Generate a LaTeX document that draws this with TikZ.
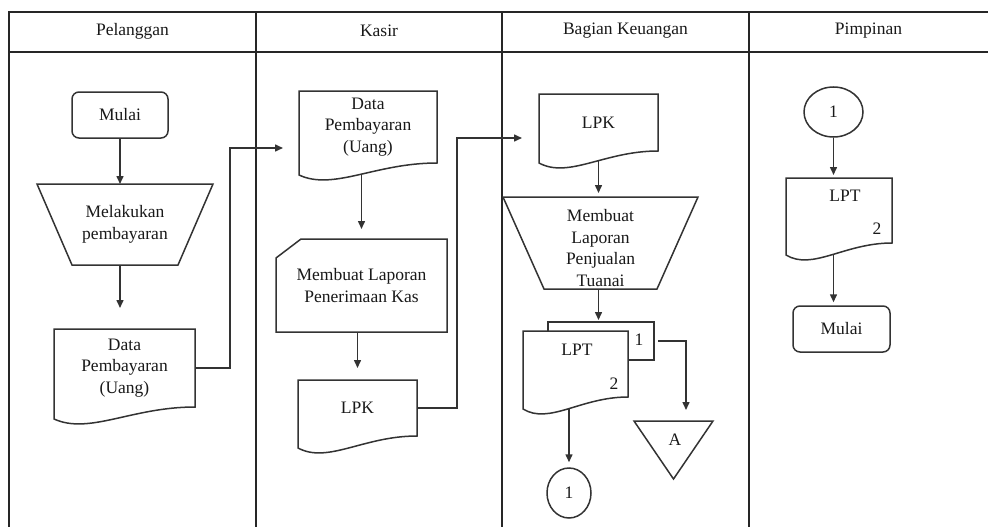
\documentclass[tikz,border=0pt]{standalone}
\usepackage{fontspec}
\setmainfont{Liberation Serif}
\usetikzlibrary{arrows.meta,calc,shapes.geometric}
\pgfdeclarelayer{connlayer}
\pgfdeclarelayer{shplayer}
\pgfsetlayers{connlayer,shplayer,main}
\newcommand{\docoutline}[1]{\draw[outl] (#1.north west) -- (#1.north east) -- (#1.south east) .. controls ($(#1.south east)!0.45!(#1.south west)$) and ($(#1.south west)!0.25!(#1.south east)+(0,28)$) .. ($(#1.south west)+(0,12)$) -- cycle;}
\begin{document}
\begin{tikzpicture}[x=1pt,y=-1pt,
  ln/.style={draw=black!80,line width=1.5pt},
  tbl/.style={draw=black!85,line width=1.6pt},
  outl/.style={ln,fill=white,line join=miter},
  conn/.style={ln,-{Triangle[length=8pt,width=7pt]}},
  txt/.style={font=\fontsize{17.5}{21.6}\selectfont,text=black!90,align=center,inner sep=0pt},
  holder/.style={draw=none,inner sep=0pt,outer sep=0pt}]
\useasboundingbox (0,0) rectangle (988,527);

% ---------- table ----------
\begin{pgfonlayer}{connlayer}
\draw[tbl] (9,527) -- (9,12) -- (988,12);
\draw[tbl] (9,52) -- (988,52);
\draw[tbl] (256,12) -- (256,527);
\draw[tbl] (502,12) -- (502,527);
\draw[tbl] (749,12) -- (749,527);
\end{pgfonlayer}
\node[txt] (hPel) at (132.5,31) {Pelanggan};
\node[txt] (hKas) at (379,31) {Kasir};
\node[txt] (hKeu) at (625.5,31) {Bagian Keuangan};
\node[txt] (hPim) at (868.5,31) {Pimpinan};

% ---------- Pelanggan ----------
\node[txt,ln,fill=white,rounded corners=7pt,minimum width=96pt,minimum height=46pt] (mulaiA) at (120,115) {Mulai};
\node[txt,holder,minimum width=176pt,minimum height=81pt] (manA) at (125,224.5) {Melakukan\\pembayaran};
\node[txt,holder,minimum width=141pt,minimum height=78pt] (docA) at (124.5,368) {Data\\Pembayaran\\(Uang)};

% ---------- Kasir ----------
\node[txt,holder,minimum width=138pt,minimum height=72pt] (docB) at (368,127) {Data\\Pembayaran\\(Uang)};
\node[txt,holder,minimum width=171pt,minimum height=93pt] (cardB) at (361.5,285.5) {Membuat Laporan\\Penerimaan Kas};
\node[txt,holder,minimum width=119pt,minimum height=56pt] (lpkB) at (357.5,408) {LPK};

% ---------- Bagian Keuangan ----------
\node[txt,holder,minimum width=119pt,minimum height=57pt] (lpkC) at (598.5,122.5) {LPK};
\node[holder,minimum width=195pt,minimum height=92pt] (manC) at (600.5,243) {};
\node[txt] (manCt) at (600.5,248) {Membuat\\Laporan\\Penjualan\\Tuanai};
\node[holder,minimum width=106pt,minimum height=38pt] (lptC1) at (601,341) {};
\node[holder,minimum width=105pt,minimum height=66pt] (lptC2) at (575.5,364) {};
\node[txt] (lptCt) at (577,350) {LPT};
\node[txt] (lptCn) at (614,384) {2};
\node[txt] (lptC1n) at (639,340) {1};
\node[holder,minimum width=79pt,minimum height=58pt] (triA) at (673.5,450) {};
\node[txt] (triAt) at (675,440) {A};
\node[txt,ellipse,ln,fill=white,minimum width=44pt,minimum height=50pt] (circ1) at (569,493) {1};

% ---------- Pimpinan ----------
\node[txt,ellipse,ln,fill=white,minimum width=59pt,minimum height=50pt] (circ2) at (833.5,112) {1};
\node[holder,minimum width=106pt,minimum height=65pt] (lptD) at (839,210.5) {};
\node[txt] (lptDt) at (845,196) {LPT};
\node[txt] (lptDn) at (877,229) {2};
\node[txt,ln,fill=white,rounded corners=7pt,minimum width=97pt,minimum height=46pt] (mulaiD) at (841.5,329) {Mulai};

\coordinate (bendA) at ($(lptC1.east)+(32,0)$);

% ---------- shape outlines ----------
\begin{pgfonlayer}{shplayer}
\draw[outl] (manA.north west) -- (manA.north east) -- ($(manA.south east)+(-35,0)$) -- ($(manA.south west)+(35,0)$) -- cycle;
\docoutline{docA}
\docoutline{docB}
\draw[outl] ($(cardB.north west)+(25,0)$) -- (cardB.north east) -- (cardB.south east) -- (cardB.south west) -- ($(cardB.north west)+(0,19)$) -- cycle;
\docoutline{lpkB}
\docoutline{lpkC}
\draw[outl] (manC.north west) -- (manC.north east) -- ($(manC.south east)+(-41,0)$) -- ($(manC.south west)+(41,0)$) -- cycle;
\draw[outl] (lptC1.north west) rectangle (lptC1.south east);
\docoutline{lptC2}
\draw[outl] (triA.north west) -- (triA.north east) -- (triA.south) -- cycle;
\docoutline{lptD}
\end{pgfonlayer}

% ---------- connectors ----------
\begin{pgfonlayer}{connlayer}
\draw[conn] (mulaiA.south) -- (mulaiA.south |- manA.north);
\draw[conn,shorten >=21pt] (manA.south -| mulaiA.south) -- (mulaiA.south |- docA.north);
\draw[conn,shorten >=16pt] (docA.east) -- ++(35,0) |- ($(docB.west)+(0,21)$);
\draw[conn,shorten >=10pt] (cardB.north |- docB.south) -- (cardB.north);
\draw[conn,shorten >=12pt] (lpkB.north |- cardB.south) -- (lpkB.north);
\draw[conn,shorten >=17pt] (lpkB.east) -- ++(40,0) |- ($(lpkC.west)+(0,15.5)$);
\draw[conn,shorten >=4pt] (lpkC.south) -- (lpkC.south |- manC.north);
\draw[conn,shorten >=2pt] (lpkC.south |- manC.south) -- (lpkC.south |- lptC1.north);
\draw[conn,shorten <=4pt,shorten >=11pt] (lptC1.east) -- (bendA) -- (bendA |- triA.north);
\draw[conn,shorten >=5pt] (circ1.north |- lptC2.south) -- (circ1.north);
\draw[conn,shorten >=3pt] (circ2.south) -- (circ2.south |- lptD.north);
\draw[conn,shorten >=3pt] (circ2.south |- lptD.south) -- (circ2.south |- mulaiD.north);
\end{pgfonlayer}
\end{tikzpicture}
\end{document}
